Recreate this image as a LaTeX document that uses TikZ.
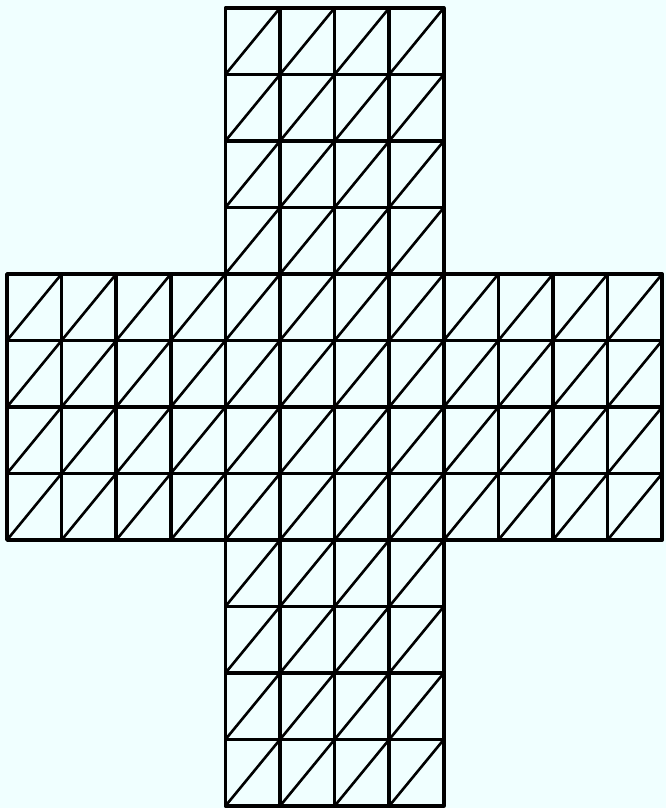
\documentclass[tikz,border=0pt]{standalone}
\usetikzlibrary{calc}
\definecolor{meshbg}{RGB}{240,255,255}
\tikzset{
  cell/.style={line width=3.6pt,line join=round},
  diag/.style={line width=2.6pt,line cap=round},
}
\newcommand{\meshcell}[2]{%
  \draw[diag] (#1,#2+1) -- (#1+1,#2);
  \draw[cell] (#1,#2) rectangle ++(1,1);
}

\begin{document}
\begin{tikzpicture}[x=54.6pt,y=-66.5pt]
		\fill[meshbg] ($(0,0)+(-7pt,8pt)$) rectangle ($(12,12)+(4pt,-2pt)$);
		%
		\foreach \c in {4,...,7} {
		  \foreach \r in {0,...,3} {\meshcell{\c}{\r}}
		  \foreach \r in {8,...,11} {\meshcell{\c}{\r}}
		}
		\foreach \c in {0,...,11} {
		  \foreach \r in {4,...,7} {\meshcell{\c}{\r}}
		}
\end{tikzpicture}
\end{document}
